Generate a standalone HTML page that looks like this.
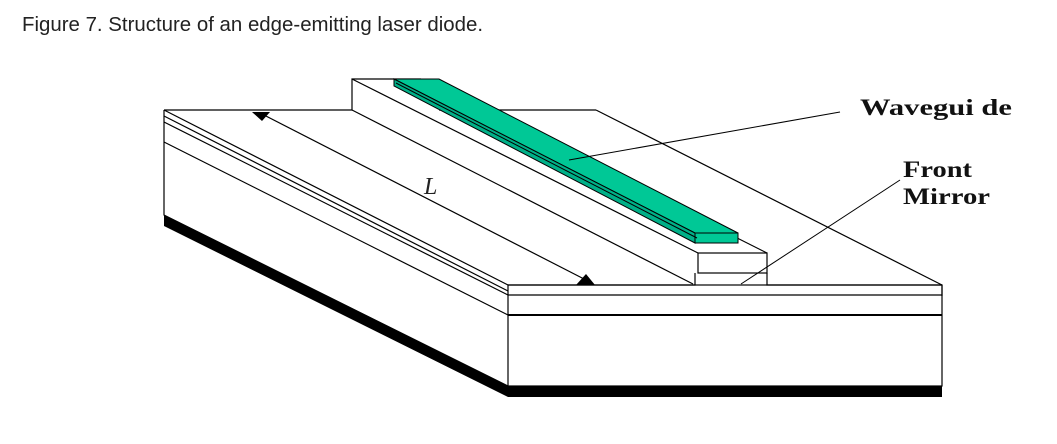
<!DOCTYPE html>
<html><head><meta charset="utf-8"><style>
body{margin:0;background:#fff;width:1057px;height:439px;overflow:hidden}
</style></head><body>
<svg width="1057" height="439" viewBox="0 0 1057 439" xmlns="http://www.w3.org/2000/svg">
<text x="22" y="31" font-family="Liberation Sans, sans-serif" font-size="20" fill="#222" textLength="461" lengthAdjust="spacingAndGlyphs">Figure 7. Structure of an edge-emitting laser diode.</text>
<g stroke="#000" stroke-width="1.2" fill="none">
<polygon points="164,215 508,386 942,386 942,397 508,397 164,226" fill="#000" stroke="none"/>
<rect x="508" y="285" width="434" height="101" fill="#fff"/>
<line x1="508" y1="295" x2="942" y2="295"/>
<line x1="508" y1="315" x2="942" y2="315" stroke-width="2"/>
<polyline points="164,110 164,215 508,386"/>
<line x1="164" y1="110" x2="508" y2="285"/>
<line x1="164" y1="116" x2="508" y2="291"/>
<line x1="164" y1="122" x2="508" y2="295"/>
<line x1="164" y1="142" x2="508" y2="315"/>
<polyline points="164,110 352,110 352,79 421,79"/>
<line x1="439" y1="110" x2="596" y2="110"/>
<line x1="596" y1="110" x2="942" y2="285"/>
<line x1="942" y1="285" x2="942" y2="296"/>
<polyline points="508,285 695,285 695,273"/>
<polyline points="767,273 767,285 942,285"/>
<line x1="352" y1="110" x2="693" y2="284"/>
<line x1="352" y1="79" x2="698" y2="253"/>
<line x1="421" y1="79" x2="767" y2="253"/>
<rect x="698" y="253" width="69" height="20" fill="#fff"/>
<line x1="262" y1="114" x2="586" y2="280"/>
</g>
<polygon points="252,112 270,112 262,121" fill="#000"/>
<polygon points="576,285 595,285 586,274" fill="#000"/>
<text x="424" y="194" font-family="Liberation Serif, serif" font-style="italic" font-size="24" fill="#222">L</text>
<g stroke="#000" stroke-width="1">
<polygon points="394,79 439,79 738,233 695,233" fill="#00c896"/>
<polygon points="394,79 394,86 695,243 695,233" fill="#00b088"/>
<rect x="695" y="233" width="43" height="10" fill="#00c896"/>
<line x1="396" y1="83" x2="697" y2="238"/>
</g>
<g stroke="#000" stroke-width="1">
<line x1="569" y1="160" x2="840" y2="112"/>
<line x1="741" y1="284" x2="900" y2="180"/>
</g>
<g font-family="Liberation Serif, serif" font-weight="bold" font-size="23" fill="#111">
<text x="860" y="115" textLength="152" lengthAdjust="spacingAndGlyphs">Wavegui de</text>
<text x="903" y="177" textLength="69" lengthAdjust="spacingAndGlyphs">Front</text>
<text x="903" y="204" textLength="87" lengthAdjust="spacingAndGlyphs">Mirror</text>
</g>
</svg>
</body></html>
